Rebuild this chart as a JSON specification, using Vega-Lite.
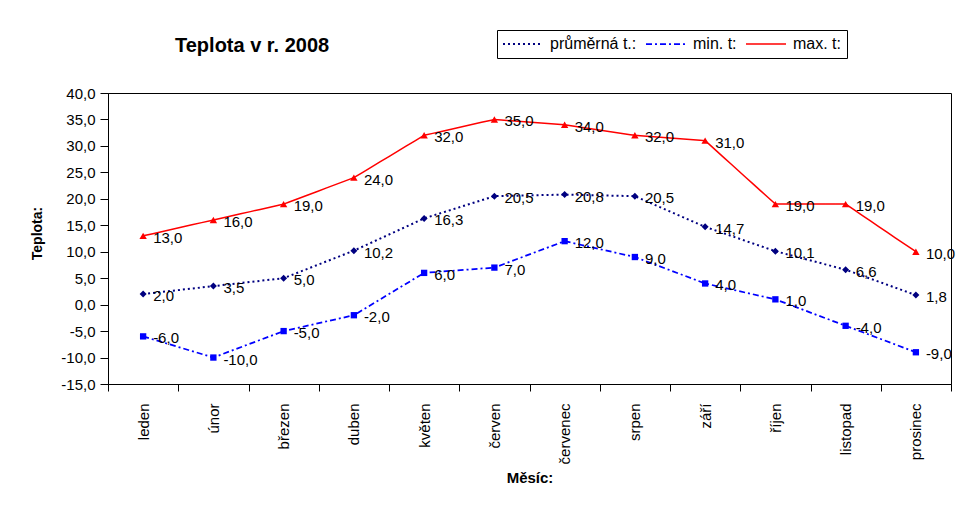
{
  "$schema": "https://vega.github.io/schema/vega-lite/v6.json",
  "width": 843,
  "height": 291,
  "autosize": {"type": "none"},
  "padding": {"left": 108, "top": 93, "right": 7, "bottom": 146},
  "background": "#ffffff",
  "title": {
    "text": "Teplota v r. 2008",
    "anchor": "start",
    "frame": "group",
    "dx": 67,
    "offset": 0,
    "dy": 26,
    "font": "Liberation Sans",
    "fontSize": 20,
    "fontWeight": "bold",
    "color": "#000000"
  },
  "data": {
    "values": [
      {"month": "leden", "series": "průměrná t.:", "value": 2.0},
      {"month": "únor", "series": "průměrná t.:", "value": 3.5},
      {"month": "březen", "series": "průměrná t.:", "value": 5.0},
      {"month": "duben", "series": "průměrná t.:", "value": 10.2},
      {"month": "květen", "series": "průměrná t.:", "value": 16.3},
      {"month": "červen", "series": "průměrná t.:", "value": 20.5},
      {"month": "červenec", "series": "průměrná t.:", "value": 20.8},
      {"month": "srpen", "series": "průměrná t.:", "value": 20.5},
      {"month": "září", "series": "průměrná t.:", "value": 14.7},
      {"month": "říjen", "series": "průměrná t.:", "value": 10.1},
      {"month": "listopad", "series": "průměrná t.:", "value": 6.6},
      {"month": "prosinec", "series": "průměrná t.:", "value": 1.8},
      {"month": "leden", "series": "min. t:", "value": -6.0},
      {"month": "únor", "series": "min. t:", "value": -10.0},
      {"month": "březen", "series": "min. t:", "value": -5.0},
      {"month": "duben", "series": "min. t:", "value": -2.0},
      {"month": "květen", "series": "min. t:", "value": 6.0},
      {"month": "červen", "series": "min. t:", "value": 7.0},
      {"month": "červenec", "series": "min. t:", "value": 12.0},
      {"month": "srpen", "series": "min. t:", "value": 9.0},
      {"month": "září", "series": "min. t:", "value": 4.0},
      {"month": "říjen", "series": "min. t:", "value": 1.0},
      {"month": "listopad", "series": "min. t:", "value": -4.0},
      {"month": "prosinec", "series": "min. t:", "value": -9.0},
      {"month": "leden", "series": "max. t:", "value": 13.0},
      {"month": "únor", "series": "max. t:", "value": 16.0},
      {"month": "březen", "series": "max. t:", "value": 19.0},
      {"month": "duben", "series": "max. t:", "value": 24.0},
      {"month": "květen", "series": "max. t:", "value": 32.0},
      {"month": "červen", "series": "max. t:", "value": 35.0},
      {"month": "červenec", "series": "max. t:", "value": 34.0},
      {"month": "srpen", "series": "max. t:", "value": 32.0},
      {"month": "září", "series": "max. t:", "value": 31.0},
      {"month": "říjen", "series": "max. t:", "value": 19.0},
      {"month": "listopad", "series": "max. t:", "value": 19.0},
      {"month": "prosinec", "series": "max. t:", "value": 10.0}
    ]
  },
  "encoding": {
    "x": {
      "field": "month",
      "type": "nominal",
      "sort": ["leden", "únor", "březen", "duben", "květen", "červen", "červenec", "srpen", "září", "říjen", "listopad", "prosinec"],
      "scale": {"type": "band", "paddingInner": 0, "paddingOuter": 0},
      "axis": {
        "title": "Měsíc:",
        "labelAngle": -90,
        "tickBand": "extent",
        "tickSize": 7,
        "labelPadding": 12,
        "labelFontSize": 15,
        "titleFontSize": 15,
        "titleFontWeight": "bold",
        "titleY": 86
      }
    },
    "y": {
      "field": "value",
      "type": "quantitative",
      "scale": {"domain": [-15, 40], "nice": false, "zero": false},
      "axis": {
        "title": "Teplota:",
        "values": [-15, -10, -5, 0, 5, 10, 15, 20, 25, 30, 35, 40],
        "format": ".1f",
        "tickSize": 8,
        "labelPadding": 5,
        "labelFontSize": 15,
        "titleFontSize": 14,
        "titleFontWeight": "bold",
        "titleX": -64,
        "titleY": 140
      }
    }
  },
  "layer": [
    {
      "mark": {"type": "line"},
      "encoding": {
        "stroke": {
          "field": "series",
          "type": "nominal",
          "scale": {"domain": ["průměrná t.:", "min. t:", "max. t:"], "range": ["#000080", "#0000FF", "#FF0000"]},
          "legend": {
            "orient": "none",
            "legendX": 389,
            "legendY": -63,
            "direction": "horizontal",
            "title": null,
            "strokeColor": "#000000",
            "fillColor": "#ffffff",
            "padding": 5,
            "labelFont": "Liberation Sans",
            "labelFontSize": 16,
            "labelColor": "#000000",
            "labelOffset": 6,
            "columnPadding": 8,
            "clipHeight": 18,
            "symbolType": "stroke",
            "symbolSize": 1600,
            "symbolStrokeWidth": 1.5
          }
        },
        "strokeDash": {
          "field": "series",
          "type": "nominal",
          "scale": {"domain": ["průměrná t.:", "min. t:", "max. t:"], "range": [[2, 3], [6, 3, 2, 3], [10, 0]]},
          "legend": null
        },
        "strokeWidth": {
          "field": "series",
          "type": "nominal",
          "scale": {"domain": ["průměrná t.:", "min. t:", "max. t:"], "range": [2, 1.5, 1]},
          "legend": null
        }
      }
    },
    {
      "transform": [{"filter": {"field": "series", "equal": "průměrná t.:"}}],
      "mark": {"type": "point", "filled": true, "opacity": 1, "strokeWidth": 0, "shape": "diamond", "size": 49, "fill": "#000080"}
    },
    {
      "transform": [{"filter": {"field": "series", "equal": "min. t:"}}],
      "mark": {"type": "point", "filled": true, "opacity": 1, "strokeWidth": 0, "shape": "square", "size": 40, "fill": "#0000FF"}
    },
    {
      "transform": [{"filter": {"field": "series", "equal": "max. t:"}}],
      "mark": {"type": "point", "filled": true, "opacity": 1, "strokeWidth": 0, "shape": "triangle-up", "size": 55, "fill": "#FF0000"}
    },
    {
      "mark": {"type": "text", "align": "left", "baseline": "middle", "dx": 10, "dy": 2, "font": "Liberation Sans", "fontSize": 15, "color": "#000000"},
      "encoding": {
        "text": {"field": "value", "type": "quantitative", "format": ".1f"}
      }
    }
  ],
  "config": {
    "locale": {"number": {"decimal": ",", "thousands": " ", "grouping": [3], "currency": ["", ""], "minus": "-"}},
    "view": {"stroke": "#000000", "strokeWidth": 1},
    "axis": {
      "domainColor": "#000000",
      "tickColor": "#000000",
      "labelColor": "#000000",
      "titleColor": "#000000",
      "labelFont": "Liberation Sans",
      "titleFont": "Liberation Sans",
      "grid": false
    }
  }
}
